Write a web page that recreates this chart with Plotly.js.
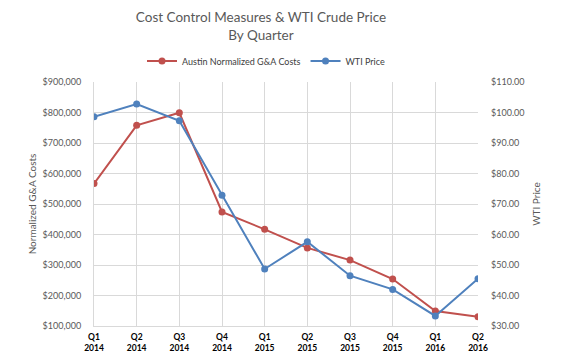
<!DOCTYPE html>
<html>
<head>
<meta charset="utf-8">
<script src="https://cdn.plot.ly/plotly-3.0.1.min.js"></script>
<style>html,body{margin:0;padding:0;background:#fff;}#chart{width:568px;height:356px;}</style>
</head>
<body>
<div id="chart"></div>
<script>
const quarters = ["Q1<br>2014","Q2<br>2014","Q3<br>2014","Q4<br>2014","Q1<br>2015","Q2<br>2015","Q3<br>2015","Q4<br>2015","Q1<br>2016","Q2<br>2016"];
const gaCosts = [567000, 758000, 799000, 474000, 417000, 356000, 316000, 254000, 149000, 130000];
const wtiPrice = [98.6, 102.8, 97.3, 72.9, 48.7, 57.6, 46.5, 42.0, 33.3, 45.5];

const FONT = "Lato, 'Open Sans', sans-serif";
const traces = [
  {x: quarters, y: gaCosts, name: "Austin Normalized G&A Costs", type: "scatter", mode: "lines+markers",
   line: {color: "#C0504D", width: 2}, marker: {color: "#C0504D", size: 7}, yaxis: "y"},
  {x: quarters, y: wtiPrice, name: "WTI Price", type: "scatter", mode: "lines+markers",
   line: {color: "#4F81BD", width: 2}, marker: {color: "#4F81BD", size: 7}, yaxis: "y2"}
];
const layout = {
  width: 568, height: 356,
  margin: {l: 94, r: 90, t: 82, b: 30},
  paper_bgcolor: "#fff", plot_bgcolor: "#fff",
  font: {family: FONT, color: "#595959"},
  title: {text: "Cost Control Measures & WTI Crude Price<br>By Quarter", font: {size: 13.5, color: "#595959", family: FONT},
          x: 261/568, xanchor: "center", xref: "container", y: 1 - 22/356, yanchor: "middle", yref: "container"},
  showlegend: true,
  legend: {orientation: "h", x: (142-94)/384, xanchor: "left", y: (326-61)/244, yanchor: "middle",
           font: {size: 9, color: "#404040"}, tracegroupgap: 0, bgcolor: "rgba(0,0,0,0)"},
  xaxis: {type: "category", range: [0, 9], showgrid: true, gridcolor: "#D9D9D9", gridwidth: 1,
          showline: true, linecolor: "#D9D9D9", ticks: "", zeroline: false, ticklabelstandoff: 3,
          tickfont: {size: 8.5, color: "#000", family: FONT, weight: "bold"}, tickangle: 0, automargin: false},
  yaxis: {range: [100000, 900000], dtick: 100000, tickformat: "$,", showgrid: true, gridcolor: "#D9D9D9",
          showline: true, linecolor: "#D9D9D9", zeroline: false, ticks: "", ticklabelstandoff: 10,
          tickfont: {size: 9, color: "#595959"}, automargin: false,
          title: {text: "Normalized G&A Costs", font: {size: 10, color: "#595959"}, standoff: 4}},
  yaxis2: {range: [30, 110], dtick: 10, tickformat: "$.2f", overlaying: "y", side: "right", showgrid: false,
           zeroline: false, showline: false, ticks: "", ticklabelstandoff: 12, tickfont: {size: 9, color: "#595959"}, automargin: false,
           title: {text: "WTI Price", font: {size: 10, color: "#595959"}, standoff: 9}}
};
Plotly.newPlot("chart", traces, layout, {displayModeBar: false, staticPlot: true});
</script>
</body>
</html>
